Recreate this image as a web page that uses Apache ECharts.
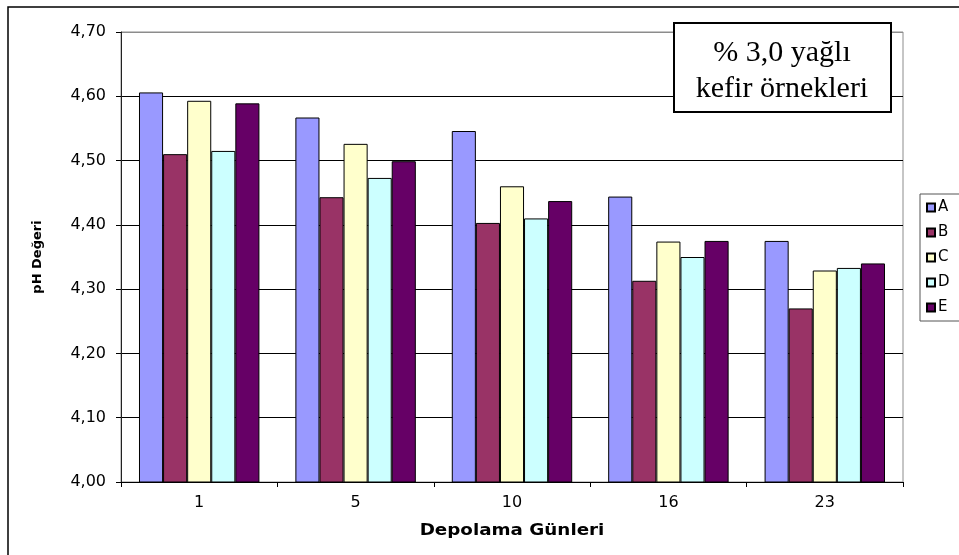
<!DOCTYPE html>
<html>
<head>
<meta charset="utf-8">
<script src="https://cdn.jsdelivr.net/npm/echarts@6/dist/echarts.min.js"></script>
<style>
  html, body { margin: 0; padding: 0; background: #fff; }
  #chart { width: 959px; height: 555px; }
</style>
</head>
<body>
<div id="chart"></div>
<script>
// Storage days (x categories)
var days = ['1', '5', '10', '16', '23'];

// pH values of the kefir samples per storage day
var seriesNames = ['A', 'B', 'C', 'D', 'E'];
var valuesA = [4.606, 4.567, 4.546, 4.444, 4.375];
var valuesB = [4.510, 4.443, 4.403, 4.313, 4.270];
var valuesC = [4.593, 4.526, 4.460, 4.374, 4.329];
var valuesD = [4.515, 4.473, 4.410, 4.350, 4.333];
var valuesE = [4.589, 4.499, 4.437, 4.375, 4.340];

// Y axis range
var yMin = 4.0;
var yMax = 4.7;
var yStep = 0.1;

var colors = ['#9999FF', '#993366', '#FFFFCC', '#CCFFFF', '#660066'];
var allValues = [valuesA, valuesB, valuesC, valuesD, valuesE];

var chart = echarts.init(document.getElementById('chart'), null, { renderer: 'canvas' });

var axisFont = 'DejaVu Sans, Verdana, sans-serif';

var series = seriesNames.map(function (name, i) {
  return {
    name: name,
    type: 'bar',
    data: allValues[i],
    barGap: '0%',
    barCategoryGap: '23%',
    itemStyle: { color: colors[i], borderColor: '#000', borderWidth: 1 },
    emphasis: { disabled: true }
  };
});

var option = {
  animation: false,
  backgroundColor: '#fff',
  grid: {
    left: 121, top: 32, right: 56, bottom: 73,
    show: true, borderColor: '#8c8c8c', borderWidth: 1
  },
  legend: {
    orient: 'vertical',
    left: 920, top: 194,
    padding: [6, 30, 6, 6],
    borderColor: '#555', borderWidth: 1,
    backgroundColor: '#fff',
    itemWidth: 8, itemHeight: 8, itemGap: 10,
    icon: 'rect',
    textStyle: { fontFamily: axisFont, fontSize: 15, lineHeight: 15, color: '#000', padding: [0, 0, 0, -2] },
    data: seriesNames
  },
  xAxis: {
    type: 'category',
    data: days,
    axisLine: { lineStyle: { color: '#000', width: 1 } },
    axisTick: { show: true, length: 5, lineStyle: { color: '#000' } },
    axisLabel: { fontFamily: axisFont, fontSize: 16, color: '#000', margin: 13 },
    splitLine: { show: false }
  },
  yAxis: {
    type: 'value',
    min: yMin, max: yMax, interval: yStep,
    axisLine: { show: true, lineStyle: { color: '#222', width: 1 } },
    axisTick: { show: true, length: 5, lineStyle: { color: '#000' } },
    axisLabel: {
      fontFamily: axisFont, fontSize: 16, color: '#000', margin: 15,
      formatter: function (v) { return v.toFixed(2).replace('.', ','); }
    },
    splitLine: {
      show: true,
      lineStyle: { color: ['#000', '#000', '#000', '#000', '#000', '#000', '#000', '#8c8c8c'], width: 1 }
    }
  },
  series: series,
  graphic: [
    // outer chart frame
    {
      type: 'rect', silent: true, z: -1,
      shape: { x: 8, y: 7, width: 1200, height: 1200 },
      style: { fill: 'none', stroke: '#000', lineWidth: 1.5 }
    },
    // y axis title
    {
      type: 'text', silent: true,
      x: 38, y: 257, rotation: Math.PI / 2,
      style: {
        text: 'pH Değeri', fill: '#000',
        font: 'bold 13px DejaVu Sans, Verdana, sans-serif',
        align: 'center', verticalAlign: 'middle'
      }
    },
    // x axis title
    {
      type: 'text', silent: true,
      x: 512, y: 531, scaleX: 1.22,
      style: {
        text: 'Depolama Günleri', fill: '#000',
        font: 'bold 15px DejaVu Sans, Verdana, sans-serif',
        align: 'center', verticalAlign: 'middle'
      }
    },
    // sample description box
    {
      type: 'rect', silent: true, z: 100,
      shape: { x: 674, y: 23, width: 217, height: 89 },
      style: { fill: '#fff', stroke: '#000', lineWidth: 2 }
    },
    {
      type: 'text', silent: true, z: 101,
      x: 782, y: 53,
      style: {
        text: '% 3,0 yağlı', fill: '#000',
        font: '30px Liberation Serif, Times New Roman, serif',
        align: 'center', verticalAlign: 'middle'
      }
    },
    {
      type: 'text', silent: true, z: 101,
      x: 782, y: 89,
      style: {
        text: 'kefir örnekleri', fill: '#000',
        font: '30px Liberation Serif, Times New Roman, serif',
        align: 'center', verticalAlign: 'middle'
      }
    }
  ]
};

chart.setOption(option);
</script>
</body>
</html>
